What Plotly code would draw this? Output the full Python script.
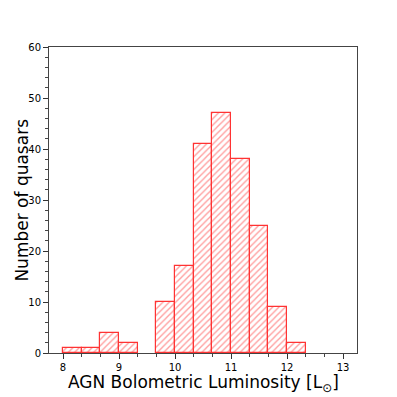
import numpy as np
import plotly.graph_objects as go

# histogram of log AGN bolometric luminosity
bin_start = 8.0
bin_width = 1.0 / 3.0
counts = [1, 1, 4, 2, 0, 10, 17, 41, 47, 38, 25, 9, 2]

x_ticks = [8, 9, 10, 11, 12, 13]
y_ticks = [0, 10, 20, 30, 40, 50, 60]

centers = bin_start + bin_width * (np.arange(len(counts)) + 0.5)
heights = [c if c > 0 else None for c in counts]  # empty bins draw nothing

fig = go.Figure()
fig.add_trace(go.Bar(
    x=centers, y=heights, width=bin_width,
    marker=dict(color="white",
                line=dict(color="#ff3333", width=1.2),
                pattern=dict(shape="/", fgcolor="#ff3c3c", bgcolor="white",
                             size=4.5, solidity=0.3)),
    showlegend=False,
))

font = "DejaVu Sans, Arial, sans-serif"
# page body has an 8px default margin, so the margins are offset by it
fig.update_layout(
    width=397, height=397,
    margin=dict(l=41, r=48, t=39, b=52),
    plot_bgcolor="white", paper_bgcolor="white",
    font=dict(family=font, color="black", size=11),
    bargap=0,
    xaxis=dict(range=[7.75, 13.25], tickvals=x_ticks, ticks="outside",
               ticklen=5, tickcolor="#333", showgrid=False, zeroline=False,
               showline=True, linecolor="#444", mirror=True,
               automargin=False, tickfont=dict(size=10),
               minor=dict(dtick=bin_width, tick0=bin_start, ticks="outside",
                          ticklen=3, tickcolor="#444")),
    yaxis=dict(range=[0, 60], tickvals=y_ticks, ticks="outside",
               ticklen=5, tickcolor="#333", showgrid=False, zeroline=False,
               showline=True, linecolor="#444", mirror=True,
               automargin=False, tickfont=dict(size=10),
               minor=dict(dtick=2, ticks="outside", ticklen=3, tickcolor="#444")),
    annotations=[
        dict(text="AGN Bolometric Luminosity [L<sub>⊙</sub>]",
             xref="paper", yref="paper", x=0.5, y=-0.056,
             xanchor="center", yanchor="top", showarrow=False,
             font=dict(size=17)),
        dict(text="Number of quasars", textangle=-90,
             xref="paper", yref="paper", x=-0.05, y=0.5,
             xanchor="right", yanchor="middle", showarrow=False,
             font=dict(size=17)),
    ],
)

fig.write_html("out.html")
